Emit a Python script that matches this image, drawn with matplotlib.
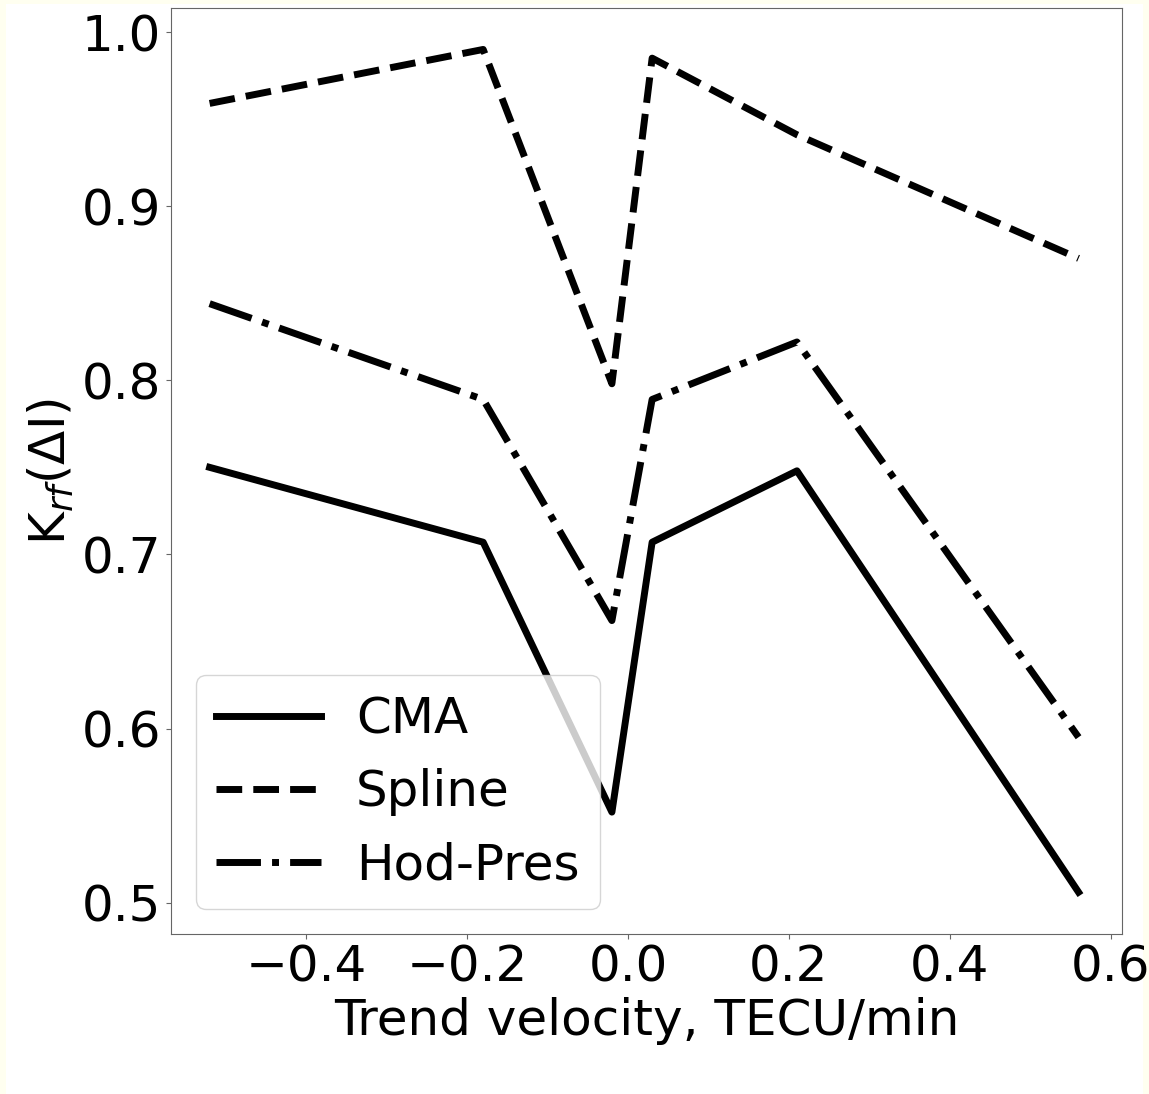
import matplotlib
matplotlib.use("Agg")
import matplotlib.pyplot as plt
from matplotlib.patches import Rectangle

velocity = [-0.52, -0.18, -0.02, 0.03, 0.21, 0.56]
cma = [0.750, 0.707, 0.552, 0.707, 0.748, 0.506]
spline = [0.959, 0.990, 0.798, 0.985, 0.941, 0.870]
hodpres = [0.844, 0.789, 0.662, 0.789, 0.822, 0.595]
xticks = [-0.4, -0.2, 0.0, 0.2, 0.4, 0.6]
yticks = [0.5, 0.6, 0.7, 0.8, 0.9, 1.0]

fig = plt.figure(figsize=(11.49, 10.94), dpi=100)
fig.patch.set_facecolor('#fffff0')
fig.patches.append(Rectangle((6/1149, 0), 1 - 12/1149, 1 - 4/1094, transform=fig.transFigure,
                             facecolor='white', edgecolor='none', zorder=-1))
ax = fig.add_axes([171/1149, 1 - 934/1094, (1122-171)/1149, (934-8)/1094])

lw = 5
ax.plot(velocity, cma, color='black', lw=lw, linestyle='-', label='CMA')
ax.plot(velocity, spline, color='black', lw=lw, linestyle='--', label='Spline')
ax.plot(velocity, hodpres, color='black', lw=lw, linestyle='-.', label='Hod-Pres')

ax.set_xlim(-0.568, 0.614)
ax.set_ylim(0.482, 1.0138)
ax.set_xticks(xticks)
ax.set_yticks(yticks)
ax.set_xticklabels([f"{v:.1f}".replace('-', '\u2212') for v in xticks])
ax.set_yticklabels([f"{v:.1f}" for v in yticks])
ax.tick_params(labelsize=36, color='0.4')
for s in ax.spines.values():
    s.set_edgecolor('0.4')

ax.set_xlabel('Trend velocity, TECU/min', fontsize=36)
ax.set_ylabel(r'K$_{rf}$($\Delta$I)', fontsize=36)
ax.legend(loc='lower left', fontsize=36, handlelength=2.1, handletextpad=0.7,
          borderaxespad=0.5)

fig.savefig('out.png', dpi=100)
